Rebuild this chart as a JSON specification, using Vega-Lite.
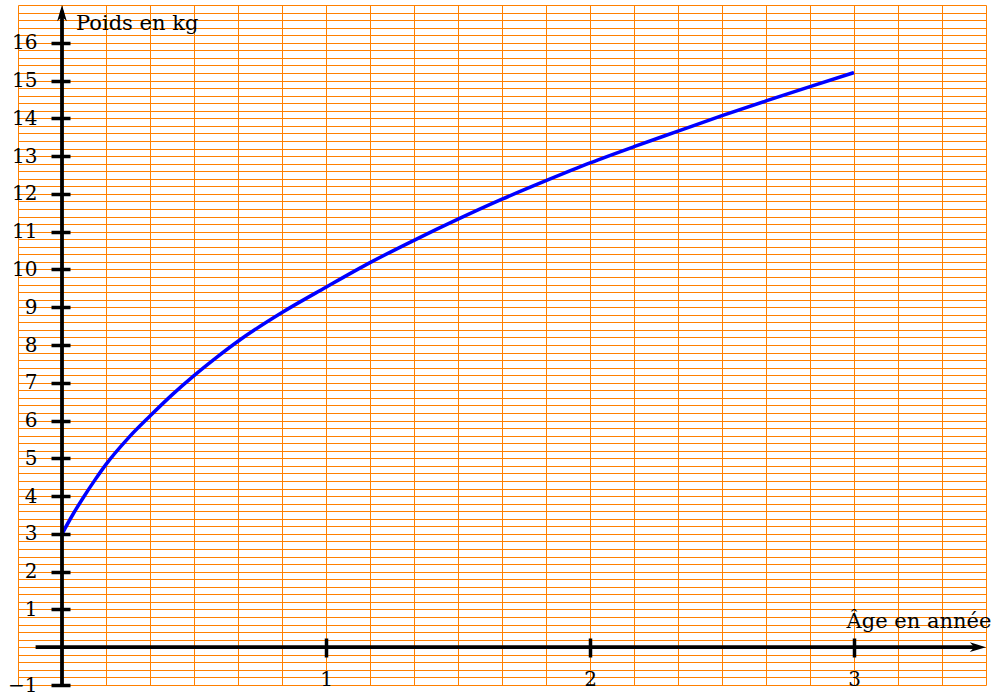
{
  "$schema": "https://vega.github.io/schema/vega-lite/v6.json",
  "width": 968,
  "height": 680,
  "autosize": {"type": "none"},
  "padding": {"left": 18, "top": 5, "right": 19, "bottom": 12},
  "background": "white",
  "config": {"view": {"stroke": null}, "font": "DejaVu Serif"},
  "datasets": {
    "curve": [
      {"age": 0, "poids": 3.0},
      {"age": 0.0417, "poids": 3.52},
      {"age": 0.0833, "poids": 3.99},
      {"age": 0.125, "poids": 4.43},
      {"age": 0.1667, "poids": 4.84},
      {"age": 0.25, "poids": 5.53},
      {"age": 0.3333, "poids": 6.12},
      {"age": 0.4167, "poids": 6.68},
      {"age": 0.5, "poids": 7.19},
      {"age": 0.5833, "poids": 7.66},
      {"age": 0.6667, "poids": 8.1},
      {"age": 0.8333, "poids": 8.86},
      {"age": 1.0, "poids": 9.53},
      {"age": 1.1667, "poids": 10.18},
      {"age": 1.3333, "poids": 10.77},
      {"age": 1.5, "poids": 11.33},
      {"age": 1.6667, "poids": 11.86},
      {"age": 1.8333, "poids": 12.35},
      {"age": 2.0, "poids": 12.82},
      {"age": 2.1667, "poids": 13.25},
      {"age": 2.3333, "poids": 13.66},
      {"age": 2.5, "poids": 14.07},
      {"age": 2.6667, "poids": 14.46},
      {"age": 2.8333, "poids": 14.84},
      {"age": 3.0, "poids": 15.21}
    ],
    "axes": [
      {"x1": -0.1, "x2": 3.47, "y1": 0, "y2": 0},
      {"x1": 0, "x2": 0, "y1": -1, "y2": 16.85}
    ],
    "arrows": [
      {"x": 3.5, "y": 0, "dir": "right"},
      {"x": 0, "y": 17, "dir": "up"}
    ],
    "titles": [
      {"x": 0.053, "y": 16.33, "t": "Poids en kg"},
      {"x": 2.972, "y": 0.51, "t": "Âge en année"}
    ]
  },
  "resolve": {"axis": {"x": "independent", "y": "independent"}},
  "layer": [
    {
      "data": {"name": "axes"},
      "mark": {"type": "rule", "strokeWidth": 0, "opacity": 0},
      "encoding": {
        "x": {
          "field": "x1", "type": "quantitative",
          "scale": {"domain": [-0.16666666666666666, 3.5], "nice": false, "zero": false},
          "axis": {
            "orient": "bottom", "title": null, "labels": false, "ticks": false, "domain": false,
            "grid": true, "gridColor": "#FF8000", "gridWidth": 1, "gridOpacity": 1, "zindex": 0,
            "values": [-0.16666666666666666, 0, 0.16666666666666666, 0.3333333333333333, 0.5, 0.6666666666666666, 0.8333333333333334, 1, 1.1666666666666667, 1.3333333333333333, 1.5, 1.6666666666666667, 1.8333333333333333, 2, 2.1666666666666665, 2.3333333333333335, 2.5, 2.6666666666666665, 2.8333333333333335, 3, 3.1666666666666665, 3.3333333333333335, 3.5]
          }
        },
        "y": {
          "field": "y1", "type": "quantitative",
          "scale": {"domain": [-1, 17], "nice": false, "zero": false},
          "axis": {
            "orient": "left", "title": null, "labels": false, "ticks": false, "domain": false,
            "grid": true, "gridColor": "#FF8000", "gridWidth": 1, "gridOpacity": 1, "zindex": 0,
            "values": [-1,-0.8,-0.6,-0.4,-0.2,0,0.2,0.4,0.6,0.8,1,1.2,1.4,1.6,1.8,2,2.2,2.4,2.6,2.8,3,3.2,3.4,3.6,3.8,4,4.2,4.4,4.6,4.8,5,5.2,5.4,5.6,5.8,6,6.2,6.4,6.6,6.8,7,7.2,7.4,7.6,7.8,8,8.2,8.4,8.6,8.8,9,9.2,9.4,9.6,9.8,10,10.2,10.4,10.6,10.8,11,11.2,11.4,11.6,11.8,12,12.2,12.4,12.6,12.8,13,13.2,13.4,13.6,13.8,14,14.2,14.4,14.6,14.8,15,15.2,15.4,15.6,15.8,16,16.2,16.4,16.6,16.8,17]
          }
        }
      }
    },
    {
      "data": {"name": "curve"},
      "mark": {"type": "line", "color": "#0000FF", "strokeWidth": 3.5, "interpolate": "monotone"},
      "encoding": {
        "x": {
          "field": "age", "type": "quantitative",
          "scale": {"domain": [-0.16666666666666666, 3.5], "nice": false, "zero": false},
          "axis": {
            "orient": "bottom", "title": null, "values": [1, 2, 3], "offset": -47,
            "domain": false, "grid": false, "ticks": true, "tickSize": 19, "tickWidth": 3.5, "tickColor": "black",
            "labelPadding": 12, "labelFontSize": 20, "labelFont": "DejaVu Serif", "labelColor": "black",
            "labelOverlap": false, "labelFlush": false, "zindex": 2
          }
        },
        "y": {
          "field": "poids", "type": "quantitative",
          "scale": {"domain": [-1, 17], "nice": false, "zero": false},
          "axis": {
            "orient": "left", "title": null, "values": [-1, 1, 2, 3, 4, 5, 6, 7, 8, 9, 10, 11, 12, 13, 14, 15, 16], "offset": -52,
            "domain": false, "grid": false, "ticks": true, "tickSize": 19, "tickWidth": 3.5, "tickColor": "black",
            "labelPadding": 14, "labelFontSize": 20, "labelFont": "DejaVu Serif", "labelColor": "black",
            "labelOverlap": false, "labelFlush": false, "zindex": 2
          }
        }
      }
    },
    {
      "data": {"name": "axes"},
      "mark": {"type": "rule", "color": "black", "strokeWidth": 3.8},
      "encoding": {
        "x": {"field": "x1", "type": "quantitative", "scale": {"domain": [-0.16666666666666666, 3.5], "nice": false, "zero": false}, "axis": null},
        "x2": {"field": "x2"},
        "y": {"field": "y1", "type": "quantitative", "scale": {"domain": [-1, 17], "nice": false, "zero": false}, "axis": null},
        "y2": {"field": "y2"}
      }
    },
    {
      "data": {"name": "arrows"},
      "mark": {"type": "point", "filled": true, "color": "black", "opacity": 1, "size": 1050},
      "encoding": {
        "x": {"field": "x", "type": "quantitative", "scale": {"domain": [-0.16666666666666666, 3.5], "nice": false, "zero": false}, "axis": null},
        "y": {"field": "y", "type": "quantitative", "scale": {"domain": [-1, 17], "nice": false, "zero": false}, "axis": null},
        "shape": {
          "field": "dir", "type": "nominal", "legend": null,
          "scale": {"domain": ["right", "up"], "range": ["M0,0 L-1,-0.3 L-0.72,0 L-1,0.3 Z", "M0,0 L-0.3,1 L0,0.72 L0.3,1 Z"]}
        }
      }
    },
    {
      "data": {"name": "titles"},
      "mark": {"type": "text", "align": "left", "baseline": "alphabetic", "fontSize": 21, "font": "DejaVu Serif", "color": "black"},
      "encoding": {
        "x": {"field": "x", "type": "quantitative", "scale": {"domain": [-0.16666666666666666, 3.5], "nice": false, "zero": false}, "axis": null},
        "y": {"field": "y", "type": "quantitative", "scale": {"domain": [-1, 17], "nice": false, "zero": false}, "axis": null},
        "text": {"field": "t"}
      }
    }
  ]
}
